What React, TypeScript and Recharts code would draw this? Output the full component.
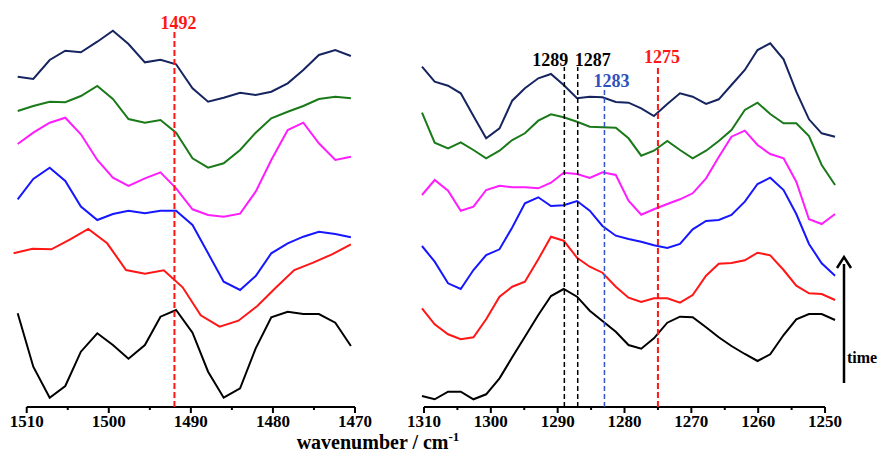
import { LineChart, Line, XAxis, YAxis, ReferenceLine } from 'recharts';

const FONT = '"Liberation Serif", "Times New Roman", serif';

// wavenumbers (cm-1) of the sampled points
const leftWn = [1511.1, 1509.2, 1507.2, 1505.3, 1503.4, 1501.4, 1499.5, 1497.6, 1495.6, 1493.7, 1491.8, 1489.8, 1487.9, 1486.0, 1484.0, 1482.1, 1480.2, 1478.2, 1476.3, 1474.4, 1472.4, 1470.5];
const leftRedWn = [1511.6, 1509.3, 1507.0, 1504.7, 1502.5, 1500.2, 1497.9, 1495.6, 1493.3, 1491.0, 1488.8, 1486.5, 1484.2, 1481.9, 1479.6, 1477.4, 1475.1, 1472.8, 1470.5];
const rightWn = [1310.3, 1308.4, 1306.4, 1304.5, 1302.6, 1300.7, 1298.7, 1296.8, 1294.9, 1292.9, 1291.0, 1289.1, 1287.1, 1285.2, 1283.3, 1281.3, 1279.4, 1277.5, 1275.6, 1273.6, 1271.7, 1269.8, 1267.8, 1265.9, 1264.0, 1262.0, 1260.1, 1258.2, 1256.2, 1254.3, 1252.4, 1250.5, 1248.5];

// stacked spectra (offset intensity, arbitrary units), top to bottom
const leftNavy = [330.3, 328, 347, 356.3, 354.7, 365.3, 376.3, 363, 344.7, 347.3, 342.7, 318.7, 305.3, 309.3, 314.3, 312, 315.3, 323.7, 337, 352, 357, 351];
const leftGreen = [296, 301, 305.3, 304.7, 311, 321, 308, 288, 284.3, 287, 274.3, 248.7, 239.3, 243.7, 257, 274.3, 288.7, 295.3, 301, 308, 310.3, 308.7];
const leftMagenta = [263, 274.3, 284.3, 289.3, 272.7, 247, 229.3, 221, 228.7, 234.7, 218.7, 197.7, 192, 190.3, 193.3, 215.3, 247, 277, 284.3, 263.7, 247, 250.3];
const leftBlue = [207.7, 228, 239.3, 226, 200.5, 187, 193, 196.3, 193.7, 196.3, 196.3, 182, 153.7, 125.3, 117, 131, 153.7, 163.7, 170.3, 175.3, 173, 169.7];
const leftRed = [153.7, 158.3, 157.7, 167.7, 178, 163.7, 137, 133.3, 136.7, 119.7, 91.7, 80.3, 86.3, 101, 119.7, 137, 144.3, 152.7, 162.7];
const leftBlack = [93.7, 40.3, 9.3, 21, 55.3, 73.7, 62, 48.3, 62, 90.3, 97, 74.3, 35.3, 9.3, 18.7, 58.7, 89.7, 95.3, 93, 93, 84.3, 61];

const rightNavy = [340.3, 325.3, 321.3, 313.7, 291, 268.7, 278.7, 306.3, 318.7, 328.7, 333, 322, 308.7, 310.3, 309.7, 305, 304.3, 298.7, 291, 303, 313.7, 310.3, 303, 307.7, 322, 337, 357, 363.7, 347.7, 315.3, 287.7, 273.7, 270.3];
const rightGreen = [294.3, 264.3, 258.7, 264.7, 257, 248.7, 256.3, 267, 273.7, 286.3, 292.7, 289.7, 285.3, 280.3, 279.7, 279.3, 268.7, 251.3, 256.3, 266, 257, 248.7, 256.3, 266, 277, 297, 304.3, 293, 283.7, 283.7, 271, 242, 222];
const rightMagenta = [212, 227, 216.3, 196.3, 200.3, 217, 221.3, 219.7, 219.7, 218.7, 224.3, 234.3, 233, 229, 234.7, 232, 206.3, 192.3, 197.7, 203, 207.7, 213.7, 228.7, 250, 270.3, 276.3, 262, 253, 248.7, 225.3, 187.7, 183, 193];
const rightBlue = [161, 145.3, 123.7, 118, 137, 152, 157.7, 179.5, 203.7, 209.7, 201, 201.7, 206, 196.3, 181, 171.3, 168, 165.3, 161.7, 159, 163, 177.7, 186, 187, 192, 205.3, 223, 229.3, 217, 193, 163, 143.7, 131.3];
const rightRed = [98.7, 82.7, 72.7, 67.7, 69.7, 87.7, 110.3, 120.3, 125.3, 147.7, 170.3, 166.3, 149.3, 140.3, 134.3, 120.3, 109.3, 105, 108.7, 108.7, 104.3, 112, 131.3, 143.3, 144, 146.7, 154.3, 151.7, 137, 121.3, 113.7, 113, 107];
const rightBlack = [11, 7.7, 15.3, 15.3, 7.7, 12.7, 28.7, 49.7, 70.3, 92, 111, 118, 110.3, 96.3, 86, 75.3, 62, 58.3, 68.7, 84.3, 90.3, 89.7, 79.7, 69.7, 61, 53, 46, 52.7, 72, 87.7, 93, 93, 87];

const leftTicks = [1510, 1505, 1500, 1495, 1490, 1485, 1480, 1475, 1470];
const rightTicks = [1310, 1305, 1300, 1295, 1290, 1285, 1280, 1275, 1270, 1265, 1260, 1255, 1250];

const colors = {
  navy: '#16255f',
  green: '#1a7a1a',
  magenta: '#ff1cff',
  blue: '#1717ff',
  red: '#ff1616',
  black: '#000000',
};

const pts = (xs: number[], ys: number[]) => xs.map((x, i) => ({ wn: x, v: ys[i] }));

function WnTick(props: any) {
  const { x, y, payload } = props;
  const major = payload.value % 10 === 0;
  return (
    <g>
      <line x1={x} x2={x} y1={y} y2={y + (major ? 6 : 3)} stroke="#000" strokeWidth={2} />
      {major && (
        <text x={x} y={y + 20} textAnchor="middle" fontFamily={FONT} fontWeight="bold" fontSize={17} fill="#000">
          {payload.value}
        </text>
      )}
    </g>
  );
}

const peakLabel = (text: string, color: string, dx: number, dy: number, anchor: string) => (props: any) => {
  const vb = props.viewBox || {};
  return (
    <text
      x={vb.x + dx}
      y={vb.y + dy}
      textAnchor={anchor}
      fontFamily={FONT}
      fontWeight="bold"
      fontSize={18}
      fill={color}
    >
      {text}
    </text>
  );
};

const series = (xs: number[], ys: number[], color: string, key: string) => (
  <Line
    key={key}
    data={pts(xs, ys)}
    dataKey="v"
    type="linear"
    stroke={color}
    strokeWidth={2}
    dot={false}
    isAnimationActive={false}
  />
);

export default function App() {
  return (
    <div style={{ position: 'absolute', left: 0, top: 0, width: 880, height: 455, background: '#fff' }}>
      <div style={{ position: 'absolute', left: 0, top: 0 }}>
        <LineChart width={400} height={455} margin={{ top: 7, right: 45, bottom: 18, left: 10.3 }}>
          <XAxis
            type="number"
            dataKey="wn"
            domain={[1470, 1512]}
            reversed
            ticks={leftTicks}
            interval={0}
            tick={<WnTick />}
            tickLine={false}
            axisLine={false}
            tickSize={0}
            tickMargin={0}
            height={30}
          />
          <YAxis type="number" domain={[0, 400]} hide allowDataOverflow />
          <ReferenceLine segment={[{ x: 1510, y: 0 }, { x: 1470, y: 0 }]} stroke="#000" strokeWidth={2} ifOverflow="visible" />
          {series(leftWn, leftNavy, colors.navy, 'n')}
          {series(leftWn, leftGreen, colors.green, 'g')}
          {series(leftWn, leftMagenta, colors.magenta, 'm')}
          {series(leftWn, leftBlue, colors.blue, 'b')}
          {series(leftRedWn, leftRed, colors.red, 'r')}
          {series(leftWn, leftBlack, colors.black, 'k')}
          <ReferenceLine
            segment={[{ x: 1492, y: 0 }, { x: 1492, y: 375 }]}
            stroke="#ff1616"
            strokeWidth={2}
            strokeDasharray="6 3"
            ifOverflow="visible"
            label={peakLabel('1492', '#ff1616', 4, -3, 'middle')}
          />
        </LineChart>
      </div>
      <div style={{ position: 'absolute', left: 400, top: 0 }}>
        <LineChart width={480} height={455} margin={{ top: 7, right: 41.6, bottom: 18, left: 17.3 }}>
          <XAxis
            type="number"
            dataKey="wn"
            domain={[1248, 1311]}
            reversed
            ticks={rightTicks}
            interval={0}
            tick={<WnTick />}
            tickLine={false}
            axisLine={false}
            tickSize={0}
            tickMargin={0}
            height={30}
          />
          <YAxis type="number" domain={[0, 400]} hide allowDataOverflow />
          <ReferenceLine segment={[{ x: 1310, y: 0 }, { x: 1250, y: 0 }]} stroke="#000" strokeWidth={2} ifOverflow="visible" />
          {series(rightWn, rightNavy, colors.navy, 'n')}
          {series(rightWn, rightGreen, colors.green, 'g')}
          {series(rightWn, rightMagenta, colors.magenta, 'm')}
          {series(rightWn, rightBlue, colors.blue, 'b')}
          {series(rightWn, rightRed, colors.red, 'r')}
          {series(rightWn, rightBlack, colors.black, 'k')}
          <ReferenceLine
            segment={[{ x: 1289, y: 0 }, { x: 1289, y: 340 }]}
            stroke="#000"
            strokeWidth={1.5}
            strokeDasharray="5 3"
            ifOverflow="visible"
            label={peakLabel('1289', '#000', 4, -1, 'end')}
          />
          <ReferenceLine
            segment={[{ x: 1287, y: 0 }, { x: 1287, y: 340 }]}
            stroke="#000"
            strokeWidth={1.5}
            strokeDasharray="5 3"
            ifOverflow="visible"
            label={peakLabel('1287', '#000', -3, -1, 'start')}
          />
          <ReferenceLine
            segment={[{ x: 1283, y: 0 }, { x: 1283, y: 319 }]}
            stroke="#3355cc"
            strokeWidth={1.5}
            strokeDasharray="5 3"
            ifOverflow="visible"
            label={peakLabel('1283', '#2f4fbf', 7, -1, 'middle')}
          />
          <ReferenceLine
            segment={[{ x: 1275, y: 0 }, { x: 1275, y: 340 }]}
            stroke="#ff1616"
            strokeWidth={2}
            strokeDasharray="6 3"
            ifOverflow="visible"
            label={peakLabel('1275', '#ff1616', 4, -4, 'middle')}
          />
        </LineChart>
      </div>
      <svg width={880} height={455} style={{ position: 'absolute', left: 0, top: 0, pointerEvents: 'none' }}>
        <text x={378} y={449} textAnchor="middle" fontFamily={FONT} fontWeight="bold" fontSize={20} fill="#000">
          wavenumber / cm
          <tspan fontSize={13} dy={-8}>-1</tspan>
        </text>
        <line x1={844} x2={844} y1={264} y2={383} stroke="#000" strokeWidth={2.5} />
        <path d="M837,268 L844,257 L851,268" fill="none" stroke="#000" strokeWidth={2.5} />
        <text x={847} y={363} fontFamily={FONT} fontWeight="bold" fontSize={16} fill="#000">
          time
        </text>
      </svg>
    </div>
  );
}
